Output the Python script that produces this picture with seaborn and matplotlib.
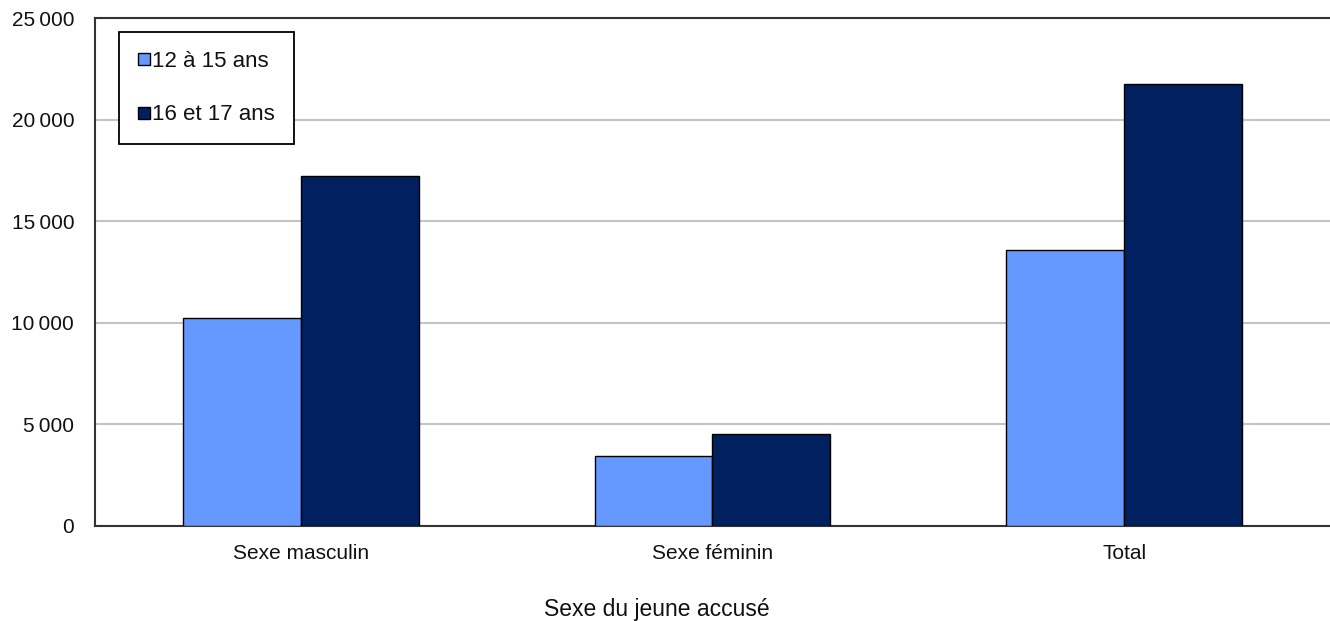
import matplotlib
matplotlib.use("Agg")
import matplotlib.pyplot as plt
from matplotlib.lines import Line2D
import seaborn as sns
import pandas as pd

categories = ["Sexe masculin", "Sexe féminin", "Total"]
ages_12_15 = [10220, 3445, 13580]
ages_16_17 = [17240, 4510, 21750]
series_names = ["12 à 15 ans", "16 et 17 ans"]
colors = ["#6699FF", "#002060"]
y_ticks = [0, 5000, 10000, 15000, 20000, 25000]
y_tick_labels = ["0", "5\u2009000", "10\u2009000", "15\u2009000", "20\u2009000", "25\u2009000"]

df = pd.DataFrame({
    "Sexe": categories * 2,
    "Groupe": [series_names[0]] * 3 + [series_names[1]] * 3,
    "Nombre": ages_12_15 + ages_16_17,
})

sns.set_theme(style="white")
plt.rcParams["font.family"] = ["Liberation Sans", "DejaVu Sans"]

fig = plt.figure(figsize=(13.3, 6.21), dpi=100)
ax = fig.add_axes([0.0714, 0.153, 0.9286, 0.818])

sns.barplot(data=df, x="Sexe", y="Nombre", hue="Groupe", order=categories,
            hue_order=series_names, palette=colors, saturation=1, width=0.573, gap=0,
            edgecolor="black", linewidth=1.0, legend=False, ax=ax, zorder=3)

ax.set_xlim(-0.5, 2.5)
ax.set_ylim(0, 25000)
ax.set_yticks(y_ticks)
ax.set_yticklabels(y_tick_labels, fontsize=15, color="#111111")
ax.tick_params(axis="x", labelsize=15, colors="#111111", length=0, pad=13)
ax.tick_params(axis="y", length=0, pad=15)
ax.yaxis.grid(True, color="#C4C4C4", linewidth=1.5, zorder=0)
ax.set_axisbelow(True)
ax.set_ylabel("")
ax.set_xlabel("Sexe du jeune accusé", fontsize=16.5, color="#111111", va="center")
ax.xaxis.set_label_coords(0.455, -0.165)

for side in ["left", "bottom", "top"]:
    ax.spines[side].set_visible(True)
    ax.spines[side].set_color("#333333")
    ax.spines[side].set_linewidth(1.5)
ax.spines["right"].set_visible(False)

handles = [Line2D([0], [0], marker="s", linestyle="none", markersize=8,
                  markerfacecolor=c, markeredgecolor="black", markeredgewidth=1.0)
           for c in colors]
leg = ax.legend(handles, series_names, loc="upper left",
                bbox_to_anchor=(0.0194, 0.972), fontsize=16, frameon=True,
                fancybox=False, shadow=False, handlelength=0.55, handletextpad=0.1,
                labelspacing=1.45, borderpad=0.85, borderaxespad=0)
leg.get_frame().set_edgecolor("black")
leg.get_frame().set_linewidth(1.3)
leg.get_frame().set_facecolor("white")
leg.get_frame().set_alpha(1)
for t in leg.get_texts():
    t.set_color("#111111")

fig.savefig("out.png", dpi=100, facecolor="white")
